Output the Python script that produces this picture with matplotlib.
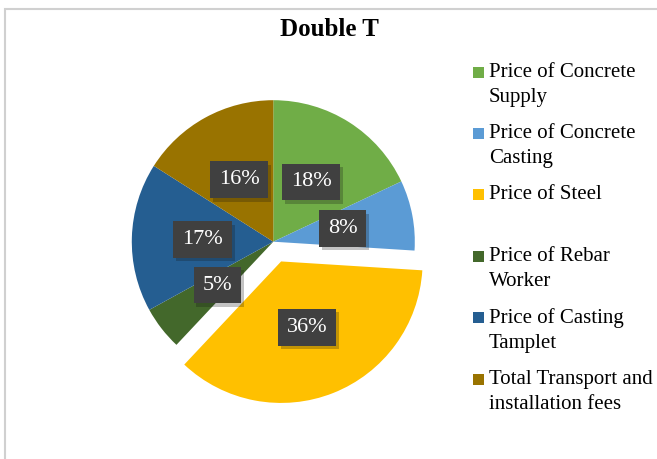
import matplotlib
matplotlib.use("Agg")
import matplotlib.pyplot as plt
import matplotlib.patheffects as pe
from matplotlib.patches import Rectangle

plt.rcParams['font.family'] = ['Liberation Serif', 'DejaVu Serif']

# data
labels = ['Price of Concrete\nSupply', 'Price of Concrete\nCasting', 'Price of Steel',
          'Price of Rebar\nWorker', 'Price of Casting\nTamplet', 'Total Transport and\ninstallation fees']
shares = [18, 8, 36, 5, 17, 16]
colors = ['#70AD47', '#5B9BD5', '#FFC000', '#43682B', '#255E91', '#997300']
explode = [0, 0, 0.15, 0, 0, 0]

W, H = 657, 459
fig = plt.figure(figsize=(W / 100, H / 100), dpi=100)

# chart frame
fig.add_artist(Rectangle((5 / W, -0.1), 1.2, (H - 9) / H + 0.1, transform=fig.transFigure,
                         fill=False, ec='#d0d0d0', lw=1.5))

fig.text(329 / W, 1 - 30 / H, 'Double T', ha='center', va='center',
         fontsize=18, fontweight='bold')

# pie axes placed by pixel centre / radius
cx, cy, R = 273.3, 241.7, 141.5
k = 1.4
ax = fig.add_axes([(cx - k * R) / W, (H - cy - k * R) / H, 2 * k * R / W, 2 * k * R / H])

wedges, texts, autotexts = ax.pie(shares, colors=colors, explode=explode, startangle=90,
                                  counterclock=False, autopct='%1.0f%%', pctdistance=0.5,
                                  wedgeprops=dict(linewidth=0))
ax.set_xlim(-k, k)
ax.set_ylim(-k, k)
ax.axis('off')

for t in autotexts:
    t.set_color('white')
    t.set_fontsize(16)
    t.set_bbox(dict(boxstyle='square,pad=0.4', facecolor='#404040', edgecolor='none'))
    t.get_bbox_patch().set_path_effects([pe.SimplePatchShadow(offset=(2, -2.5), alpha=0.25),
                                         pe.Normal()])

# legend drawn by hand so squares align with the first line
leg_x = 473
row_top = [67, 128, 189, 251, 312, 374]
for y, lab, c in zip(row_top, labels, colors):
    fig.add_artist(Rectangle((leg_x / W, 1 - (y + 11) / H), 11 / W, 11 / H,
                             transform=fig.transFigure, fc=c, ec='none'))
    fig.text((leg_x + 16) / W, 1 - (y - 4) / H, lab, ha='left', va='top',
             fontsize=15, linespacing=1.4)

fig.savefig('out.png', dpi=100)
